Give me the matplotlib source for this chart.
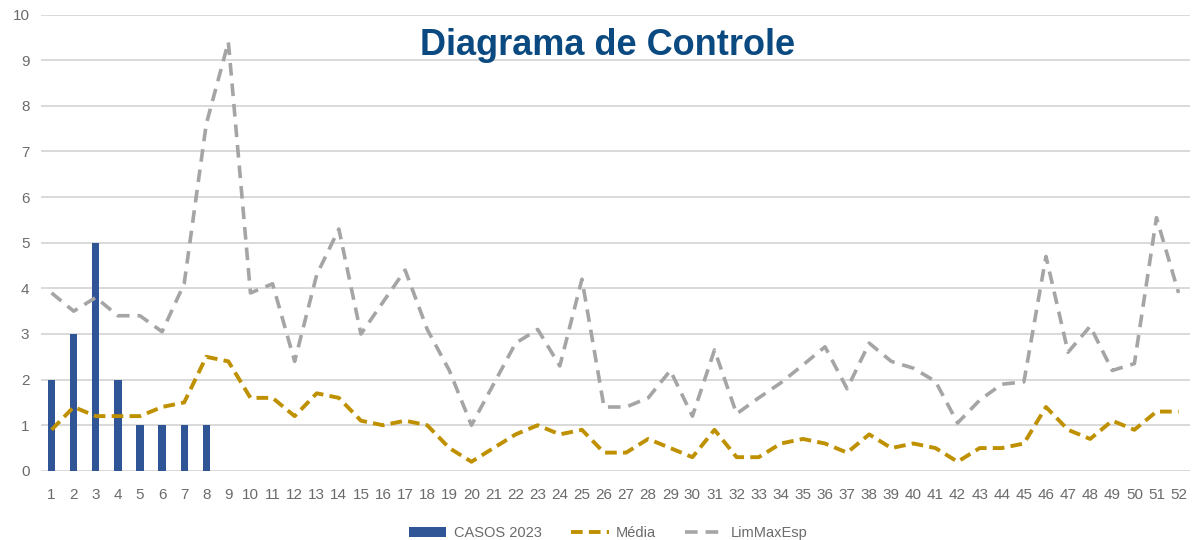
import matplotlib
matplotlib.use('Agg')
import matplotlib.pyplot as plt
import numpy as np

# Semanas epidemiológicas e séries do diagrama
semanas = list(range(1, 53))
casos_2023 = [2, 3, 5, 2, 1, 1, 1, 1]
media = [0.9, 1.4, 1.2, 1.2, 1.2, 1.4, 1.5, 2.5, 2.4, 1.6,
         1.6, 1.2, 1.7, 1.6, 1.1, 1.0, 1.1, 1.0, 0.5, 0.2,
         0.5, 0.8, 1.0, 0.8, 0.9, 0.4, 0.4, 0.7, 0.5, 0.3,
         0.9, 0.3, 0.3, 0.6, 0.7, 0.6, 0.4, 0.8, 0.5, 0.6,
         0.5, 0.2, 0.5, 0.5, 0.6, 1.4, 0.9, 0.7, 1.1, 0.9,
         1.3, 1.3]
lim_max_esp = [3.9, 3.5, 3.8, 3.4, 3.4, 3.05, 4.1, 7.6, 9.4, 3.9,
               4.1, 2.4, 4.3, 5.3, 3.0, 3.7, 4.4, 3.1, 2.2, 1.0,
               1.9, 2.8, 3.1, 2.3, 4.2, 1.4, 1.4, 1.6, 2.2, 1.2,
               2.65, 1.25, 1.6, 1.93, 2.32, 2.72, 1.8, 2.8, 2.4, 2.25,
               1.96, 1.05, 1.55, 1.9, 1.95, 4.7, 2.6, 3.17, 2.2, 2.35,
               5.55, 3.9]

plt.rcParams['font.family'] = ['Liberation Sans', 'DejaVu Sans']

fig = plt.figure(figsize=(11.92, 5.4), dpi=100)
ax = fig.add_axes([0.034, 0.128, 0.964, 0.845])

for y in range(0, 11):
    ax.axhline(y, color='#d9d9d9', lw=1.4, zorder=0)

barras = ax.bar(range(1, len(casos_2023) + 1), casos_2023, width=0.33,
                color='#2f5597', label='CASOS 2023', zorder=2)
linha_media, = ax.plot(semanas, media, color='#bf9000', lw=2.8,
                       dashes=(3, 1.6), label='Média', zorder=3)
linha_lim, = ax.plot(semanas, lim_max_esp, color='#a5a5a5', lw=2.6,
                     dashes=(3.5, 2.2), label='LimMaxEsp', zorder=3)

ax.set_xlim(0.5, 52.5)
ax.set_ylim(0, 10)
ax.set_xticks(semanas)
ax.set_yticks(range(0, 11))
ax.tick_params(length=0, labelsize=11, colors='#6b6b6b', pad=12)
ax.tick_params(axis='y', pad=8)
for s in ax.spines.values():
    s.set_visible(False)

fig.text(0.51, 0.915, 'Diagrama de Controle', ha='center', va='center',
         fontsize=26, fontweight='bold', color='#0b4a80')

leg = fig.legend([barras, linha_media, linha_lim],
                 ['CASOS 2023', 'Média', 'LimMaxEsp'],
                 loc='lower center', bbox_to_anchor=(0.51, -0.025), ncol=3,
                 frameon=False, fontsize=10.5, handlelength=2.6,
                 columnspacing=2.0, handletextpad=0.5)
for t in leg.get_texts():
    t.set_color('#6b6b6b')

fig.savefig('out.png', dpi=100)
